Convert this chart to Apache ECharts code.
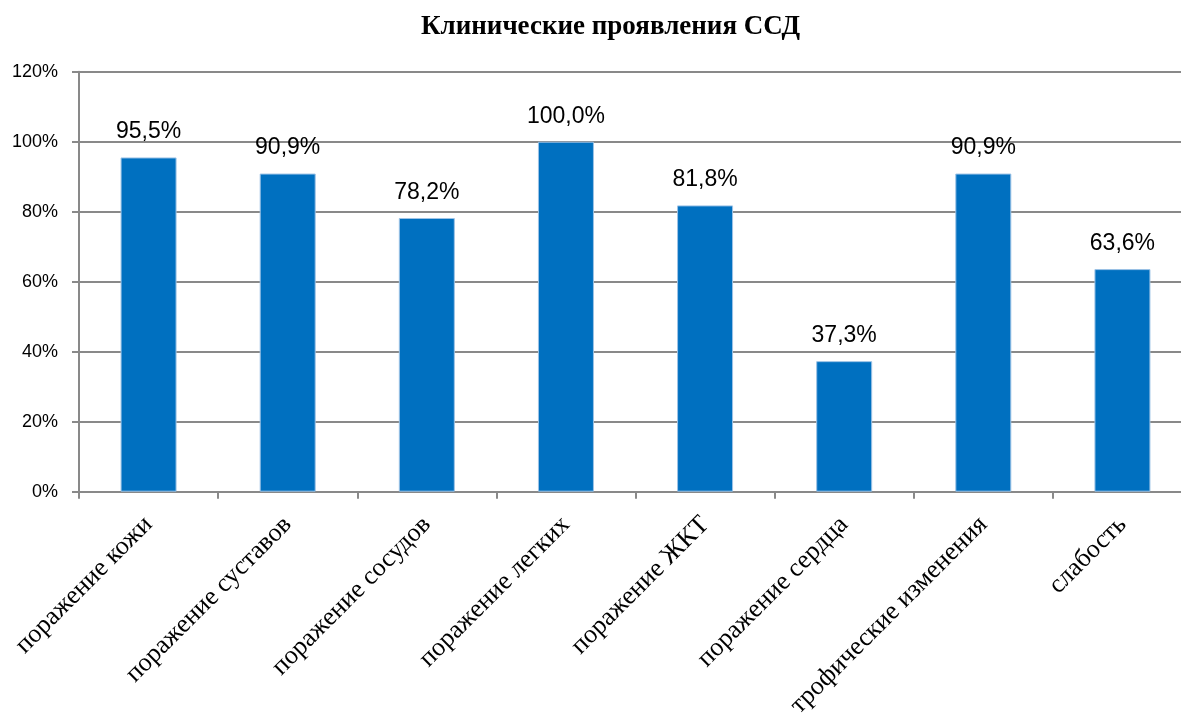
<!DOCTYPE html>
<html>
<head>
<meta charset="utf-8">
<script src="https://cdn.jsdelivr.net/npm/echarts@6/dist/echarts.min.js"></script>
<style>
html,body{margin:0;padding:0;background:#fff;}
#main{width:1181px;height:715px;}
</style>
</head>
<body>
<div id="main"></div>
<script>
var categories = ['поражение кожи', 'поражение суставов', 'поражение сосудов', 'поражение легких',
	'поражение ЖКТ', 'поражение сердца', 'трофические изменения', 'слабость'];
var percentValues = [95.5, 90.9, 78.2, 100.0, 81.8, 37.3, 90.9, 63.6];
var yTicks = [0, 20, 40, 60, 80, 100, 120];

var myChart = echarts.init(document.getElementById('main'));
var option = {
	animation: false,
	title: {
		text: 'Клинические проявления ССД',
		left: 416,
		top: 9,
		textStyle: {
			fontFamily: 'Liberation Serif',
			fontWeight: 'bold',
			fontSize: 27,
			color: '#000'
		}
	},
	grid: {
		left: 79,
		width: 1113,
		top: 71.7,
		height: 420,
		outerBoundsMode: 'none'
	},
	xAxis: [
		{
			type: 'category',
			data: categories,
			axisLine: {lineStyle: {color: '#898989', width: 2}},
			axisTick: {show: true, length: 7, lineStyle: {color: '#898989', width: 2}},
			axisLabel: {
				rotate: 45,
				interval: 0,
				margin: 29,
				fontFamily: 'Liberation Serif',
				fontSize: 26,
				color: '#000'
			}
		}
	],
	yAxis: [
		{
			type: 'value',
			min: yTicks[0],
			max: yTicks[yTicks.length - 1],
			interval: 20,
			axisLine: {show: true, lineStyle: {color: '#898989', width: 2}},
			axisTick: {show: true, length: 7, lineStyle: {color: '#898989', width: 2}},
			splitLine: {lineStyle: {color: '#898989', width: 2}},
			axisLabel: {
				formatter: '{value}%',
				margin: 21,
				fontFamily: 'Liberation Sans',
				fontSize: 18,
				color: '#000'
			}
		}
	],
	series: [
		{
			type: 'bar',
			data: percentValues,
			barWidth: 56,
			itemStyle: {color: '#0070C0', borderColor: '#9DC3E6', borderWidth: 1},
			label: {
				show: true,
				position: 'top',
				distance: 14,
				fontFamily: 'Liberation Sans',
				fontSize: 23,
				color: '#000',
				formatter: function (p) {
					return p.value.toFixed(1).replace('.', ',') + '%';
				}
			}
		}
	]
};
myChart.setOption(option);
</script>
</body>
</html>
